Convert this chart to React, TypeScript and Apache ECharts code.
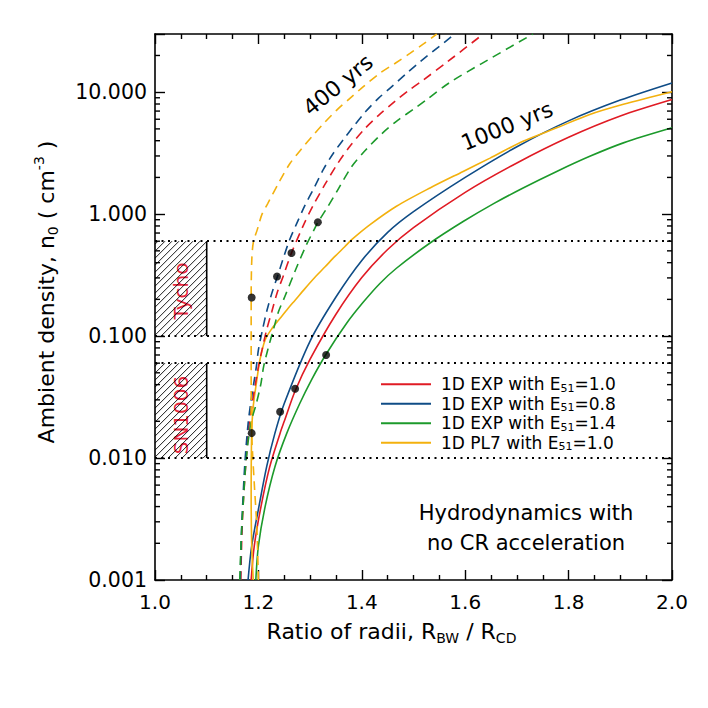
import React, { useEffect, useRef } from 'react';
import * as echarts from 'echarts';

// ---------- axes ----------
const xMin = 1.0;
const xMax = 2.0;
const nMin = 0.001;
const nMax = 30;
const decades = [0.001, 0.01, 0.1, 1, 10];

// ---------- model curves (x = R_BW/R_CD, n = ambient density) ----------
// 1D EXP, E51 = 1.0  (red)
const expE10Dash_x = [1.166, 1.168, 1.171, 1.176, 1.182, 1.188, 1.2, 1.207, 1.216, 1.226, 1.236, 1.248, 1.264, 1.287, 1.306, 1.329, 1.352, 1.377, 1.405, 1.433, 1.464, 1.493, 1.518, 1.566, 1.635];
const expE10Dash_n = [0.001, 0.0023, 0.0045, 0.0093, 0.019, 0.028, 0.056, 0.077, 0.113, 0.159, 0.225, 0.31, 0.48, 0.81, 1.18, 1.76, 2.55, 3.6, 4.98, 6.49, 8.4, 10.5, 12.5, 17.8, 30];
const expE10Solid_x = [1.186, 1.192, 1.205, 1.222, 1.242, 1.25, 1.271, 1.3, 1.35, 1.4, 1.45, 1.5, 1.6, 1.7, 1.8, 1.9, 2.0];
const expE10Solid_n = [0.001, 0.0019, 0.004, 0.0085, 0.016, 0.02, 0.0355, 0.0646, 0.151, 0.302, 0.513, 0.776, 1.51, 2.63, 4.27, 6.38, 8.71];

// 1D EXP, E51 = 0.8  (blue)
const expE08Dash_x = [1.165, 1.167, 1.17, 1.174, 1.18, 1.185, 1.191, 1.196, 1.2, 1.208, 1.216, 1.226, 1.237, 1.247, 1.26, 1.274, 1.29, 1.307, 1.326, 1.345, 1.365, 1.385, 1.407, 1.432, 1.458, 1.487, 1.513, 1.58];
const expE08Dash_n = [0.001, 0.0023, 0.0045, 0.0093, 0.019, 0.028, 0.041, 0.056, 0.077, 0.113, 0.159, 0.225, 0.31, 0.42, 0.61, 0.836, 1.18, 1.62, 2.34, 3.16, 4.12, 5.31, 6.9, 8.9, 11.1, 14.3, 17.8, 30];
const expE08Solid_x = [1.18, 1.187, 1.2, 1.216, 1.232, 1.25, 1.3, 1.35, 1.4, 1.45, 1.5, 1.6, 1.7, 1.8, 1.9, 2.0];
const expE08Solid_n = [0.001, 0.0019, 0.0038, 0.0085, 0.016, 0.028, 0.091, 0.209, 0.417, 0.708, 1.047, 2.0, 3.57, 5.82, 8.61, 11.9];

// 1D EXP, E51 = 1.4  (green)
const expE14Dash_x = [1.164, 1.167, 1.171, 1.176, 1.185, 1.196, 1.205, 1.21, 1.218, 1.229, 1.239, 1.251, 1.272, 1.292, 1.308, 1.315, 1.332, 1.355, 1.38, 1.407, 1.439, 1.47, 1.502, 1.524, 1.57, 1.63, 1.731];
const expE14Dash_n = [0.001, 0.0023, 0.0045, 0.0093, 0.019, 0.028, 0.041, 0.056, 0.077, 0.113, 0.159, 0.21, 0.35, 0.55, 0.75, 0.857, 1.11, 1.62, 2.44, 3.34, 4.58, 5.9, 7.35, 8.6, 12, 17, 30];
const expE14Solid_x = [1.195, 1.2, 1.213, 1.232, 1.255, 1.28, 1.303, 1.33, 1.371, 1.403, 1.435, 1.467, 1.532, 1.596, 1.655, 1.712, 1.777, 1.841, 1.906, 2.0];
const expE14Solid_n = [0.001, 0.0019, 0.004, 0.0085, 0.016, 0.028, 0.044, 0.07, 0.128, 0.19, 0.27, 0.36, 0.58, 0.87, 1.22, 1.64, 2.24, 2.98, 3.84, 5.1];

// 1D PL7, E51 = 1.0  (orange)
const pl7E10Dash_x = [1.2, 1.197, 1.192, 1.187, 1.186, 1.186, 1.186, 1.187, 1.19, 1.198, 1.207, 1.218, 1.2385, 1.261, 1.284, 1.306, 1.329, 1.351, 1.377, 1.403, 1.435, 1.464, 1.493, 1.52, 1.545];
const pl7E10Dash_n = [0.001, 0.0027, 0.0062, 0.016, 0.041, 0.093, 0.2, 0.4, 0.58, 0.75, 1.0, 1.22, 1.78, 2.6, 3.45, 4.44, 5.7, 7.1, 8.9, 11.1, 14.3, 17.2, 20.8, 25, 30];
const pl7E10Solid_x = [1.19, 1.187, 1.186, 1.187, 1.19, 1.197, 1.203, 1.213, 1.226, 1.242, 1.258, 1.271, 1.29, 1.309, 1.329, 1.348, 1.367, 1.381, 1.416, 1.467, 1.532, 1.596, 1.648, 1.712, 1.777, 1.841, 1.906, 2.0];
const pl7E10Solid_n = [0.001, 0.002, 0.005, 0.016, 0.0264, 0.0437, 0.064, 0.093, 0.115, 0.14, 0.17, 0.197, 0.245, 0.302, 0.37, 0.45, 0.54, 0.62, 0.82, 1.16, 1.64, 2.24, 2.88, 3.96, 5.1, 6.56, 7.95, 10.1];

// black dots
const dot_x = [1.187, 1.236, 1.264, 1.315, 1.187, 1.242, 1.271, 1.331];
const dot_n = [0.207, 0.308, 0.48, 0.857, 0.016, 0.024, 0.037, 0.07];

// observed density ranges (Tycho, SN1006)
const remnantNames = ['Tycho', 'SN1006'];
const remnantLow = [0.1, 0.01];
const remnantHigh = [0.6, 0.06];
const remnantXMax = 1.1;

// legend
const modelKeys = ['exp10', 'exp08', 'exp14', 'pl710'];
const modelLabels = ['1D EXP with E{sub|51}=1.0', '1D EXP with E{sub|51}=0.8', '1D EXP with E{sub|51}=1.4', '1D PL7 with E{sub|51}=1.0'];
const modelColors = ['#e01b24', '#0f4c86', '#1c9a2b', '#f3b10e'];

const FONT = 'DejaVu Sans';

function pairs(xs: number[], ns: number[]) {
  return xs.map((x, i) => [x, Math.log10(ns[i])]);
}

function lineSeries(key: string, color: string, xs: number[], ns: number[], dashed: boolean) {
  return {
    type: 'line',
    name: key,
    data: pairs(xs, ns),
    symbol: 'none',
    smooth: 0.3,
    clip: true,
    z: 3,
    itemStyle: { color },
    lineStyle: { color, width: 1.6, type: dashed ? [9, 6] : 'solid' },
  };
}

export default function App() {
  const ref = useRef<HTMLDivElement>(null);

  useEffect(() => {
    if (!ref.current) return;
    const chart = echarts.init(ref.current, null, { renderer: 'svg' });

    const minorVals: number[] = [];
    decades.forEach((d) => {
      for (let k = 2; k <= 9; k++) {
        const v = d * k;
        if (v < nMax) minorVals.push(v);
      }
    });

    const yLo = Math.log10(nMin);
    const yHi = Math.log10(nMax);

    const axisLineStyle = { color: '#000', width: 1.6 };
    const baseX = {
      type: 'value',
      min: xMin,
      max: xMax,
      interval: 0.2,
      splitLine: { show: false },
      axisLine: { show: true, onZero: false, lineStyle: axisLineStyle },
      axisTick: { show: true, inside: true, length: 10, lineStyle: { color: '#000', width: 1.4 } },
      minorTick: { show: true, splitNumber: 4, length: 5, lineStyle: { color: '#000', width: 1.4 } },
    };
    const baseY = {
      type: 'value',
      min: yLo,
      max: yHi,
      interval: 1,
      splitLine: { show: false },
      axisLine: { show: true, onZero: false, lineStyle: axisLineStyle },
      axisTick: { show: true, inside: true, length: 10, lineStyle: { color: '#000', width: 1.4 } },
    };

    const series: any[] = [
      lineSeries('exp10', modelColors[0], expE10Solid_x, expE10Solid_n, false),
      lineSeries('exp08', modelColors[1], expE08Solid_x, expE08Solid_n, false),
      lineSeries('exp14', modelColors[2], expE14Solid_x, expE14Solid_n, false),
      lineSeries('pl710', modelColors[3], pl7E10Solid_x, pl7E10Solid_n, false),
      lineSeries('exp10', modelColors[0], expE10Dash_x, expE10Dash_n, true),
      lineSeries('exp08', modelColors[1], expE08Dash_x, expE08Dash_n, true),
      lineSeries('exp14', modelColors[2], expE14Dash_x, expE14Dash_n, true),
      lineSeries('pl710', modelColors[3], pl7E10Dash_x, pl7E10Dash_n, true),
      {
        type: 'scatter',
        name: 'dots',
        data: pairs(dot_x, dot_n),
        symbol: 'circle',
        symbolSize: 8,
        z: 5,
        itemStyle: { color: '#000' },
        markLine: {
          silent: true,
          symbol: 'none',
          label: { show: false },
          lineStyle: { color: '#000', type: [2, 4.5], width: 1.8 },
          data: [...remnantLow, ...remnantHigh].map((v) => ({ yAxis: Math.log10(v) })),
        },
      },
      {
        type: 'custom',
        name: 'hatch',
        z: 1,
        silent: true,
        encode: { x: [0, 1], y: [2, 3] },
        data: remnantLow.map((lo, i) => [xMin, remnantXMax, Math.log10(lo), Math.log10(remnantHigh[i])]),
        renderItem: (params: any, api: any) => {
          const tl = api.coord([api.value(0), api.value(3)]);
          const br = api.coord([api.value(1), api.value(2)]);
          const L = tl[0], T = tl[1], R = br[0], B = br[1];
          const children: any[] = [];
          const step = 7;
          for (let c = L + T + 3; c < R + B; c += step) {
            const xa = Math.max(L, c - B);
            const xb = Math.min(R, c - T);
            if (xb > xa) {
              children.push({
                type: 'line',
                shape: { x1: xa, y1: c - xa, x2: xb, y2: c - xb },
                style: { stroke: '#000', lineWidth: 0.9 },
              });
            }
          }
          children.push({
            type: 'line',
            shape: { x1: R, y1: T, x2: R, y2: B },
            style: { stroke: '#000', lineWidth: 1.6 },
          });
          return { type: 'group', children };
        },
      },
      {
        type: 'custom',
        name: 'minorY',
        z: 6,
        silent: true,
        encode: { x: 0, y: 1 },
        data: minorVals.map((v) => [xMin, Math.log10(v)]),
        renderItem: (params: any, api: any) => {
          const v = api.value(1);
          const p = api.coord([xMin, v]);
          const q = api.coord([xMax, v]);
          return {
            type: 'group',
            children: [
              { type: 'line', shape: { x1: p[0], y1: p[1], x2: p[0] + 5, y2: p[1] }, style: { stroke: '#000', lineWidth: 1.4 } },
              { type: 'line', shape: { x1: q[0] - 5, y1: q[1], x2: q[0], y2: q[1] }, style: { stroke: '#000', lineWidth: 1.4 } },
            ],
          };
        },
      },
    ];

    const subRich = {
      sub: { fontFamily: FONT, fontSize: 14, lineHeight: 12, verticalAlign: 'bottom' },
      sup: { fontFamily: FONT, fontSize: 14, lineHeight: 12, verticalAlign: 'top' },
    };

    chart.setOption({
      animation: false,
      backgroundColor: '#fff',
      textStyle: { fontFamily: FONT },
      grid: { left: 155, right: 36, top: 34, bottom: 128, containLabel: false },
      xAxis: [
        {
          ...baseX,
          position: 'bottom',
          axisLabel: { show: true, margin: 12, fontSize: 20, color: '#000', fontFamily: FONT, formatter: (v: number) => v.toFixed(1) },
          name: 'Ratio of radii, R{sub|BW} / R{sub|CD}',
          nameLocation: 'middle',
          nameGap: 37,
          nameTextStyle: { fontSize: 22, color: '#000', fontFamily: FONT, lineHeight: 28, padding: [0, 44, 0, 0], rich: subRich },
        },
        { ...baseX, position: 'top', axisLabel: { show: false } },
      ],
      yAxis: [
        {
          ...baseY,
          position: 'left',
          axisLabel: {
            show: true,
            margin: 8,
            fontSize: 20.5,
            color: '#000',
            fontFamily: FONT,
            formatter: (v: number) => (Math.abs(v - Math.round(v)) < 1e-6 ? Math.pow(10, Math.round(v)).toFixed(3) : ''),
          },
          name: 'Ambient density, n{sub|0} ( cm{sup|-3} )',
          nameLocation: 'middle',
          nameGap: 95,
          nameTextStyle: { fontSize: 22, color: '#000', fontFamily: FONT, lineHeight: 28, padding: [0, 0, 0, 30], rich: subRich },
        },
        { ...baseY, position: 'right', axisLabel: { show: false } },
      ],
      legend: {
        data: modelKeys.map((k, i) => ({ name: k, itemStyle: { color: modelColors[i] } })),
        orient: 'vertical',
        left: 376,
        top: 370,
        icon: 'rect',
        itemWidth: 50,
        itemHeight: 2,
        itemGap: 1,
        selectedMode: false,
        formatter: (name: string) => modelLabels[modelKeys.indexOf(name)],
        textStyle: {
          fontFamily: FONT,
          fontSize: 17,
          color: '#000',
          lineHeight: 18.5,
          padding: [0, 0, 0, 5],
          rich: {
            sub: { fontFamily: FONT, fontSize: 11, lineHeight: 8, verticalAlign: 'bottom' },
          },
        },
      },
      graphic: [
        { type: 'text', x: 338, y: 85, rotation: (39 * Math.PI) / 180, style: { text: '400 yrs', font: `22px "${FONT}"`, fill: '#000', align: 'center', verticalAlign: 'middle' } },
        { type: 'text', x: 507, y: 126, rotation: (22 * Math.PI) / 180, style: { text: '1000 yrs', font: `22px "${FONT}"`, fill: '#000', align: 'center', verticalAlign: 'middle' } },
        { type: 'text', x: 181, y: 291, rotation: Math.PI / 2, style: { text: remnantNames[0], font: `20px "${FONT}"`, fill: '#e8263c', align: 'center', verticalAlign: 'middle' } },
        { type: 'text', x: 181, y: 415, rotation: Math.PI / 2, style: { text: remnantNames[1], font: `20px "${FONT}"`, fill: '#e8263c', align: 'center', verticalAlign: 'middle' } },
        { type: 'text', x: 526, y: 513, style: { text: 'Hydrodynamics with', font: `21px "${FONT}"`, fill: '#000', align: 'center', verticalAlign: 'middle' } },
        { type: 'text', x: 526, y: 543, style: { text: 'no CR acceleration', font: `21px "${FONT}"`, fill: '#000', align: 'center', verticalAlign: 'middle' } },
      ],
      series,
    });

    return () => chart.dispose();
  }, []);

  return <div ref={ref} style={{ position: 'fixed', left: 0, top: 0, width: 708, height: 708, background: '#fff' }} />;
}
